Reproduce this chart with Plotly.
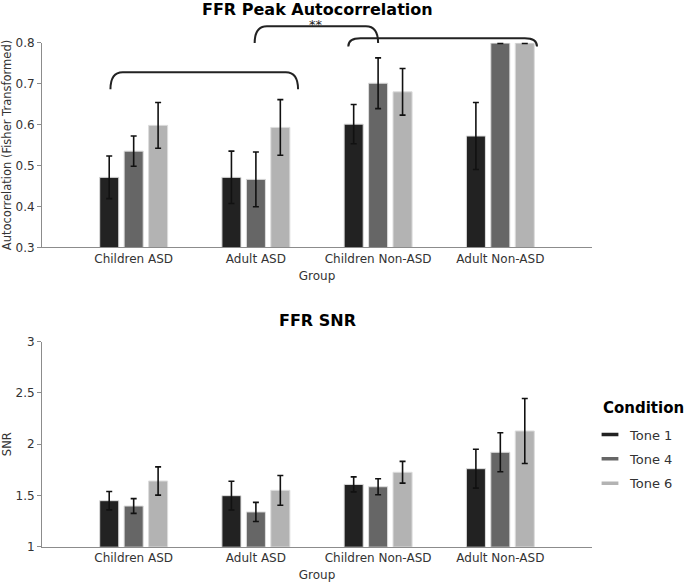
import plotly.graph_objects as go

groups = ["Children ASD", "Adult ASD", "Children Non-ASD", "Adult Non-ASD"]
tones = ["Tone 1", "Tone 4", "Tone 6"]
tone_colors = ["#222222", "#666666", "#b3b3b3"]

# FFR peak autocorrelation (Fisher transformed): means and error half-widths
auto_tone1 = [0.471, 0.471, 0.601, 0.572]
auto_tone4 = [0.535, 0.466, 0.701, 0.799]
auto_tone6 = [0.598, 0.593, 0.680, 0.799]
auto_err1 = [0.052, 0.064, 0.048, 0.082]
auto_err4 = [0.037, 0.067, 0.062, 0.001]
auto_err6 = [0.056, 0.068, 0.057, 0.001]

# FFR SNR: means and error half-widths
snr_tone1 = [1.449, 1.498, 1.608, 1.761]
snr_tone4 = [1.397, 1.339, 1.585, 1.921]
snr_tone6 = [1.641, 1.550, 1.726, 2.129]
snr_err1 = [0.090, 0.140, 0.073, 0.190]
snr_err4 = [0.072, 0.093, 0.078, 0.190]
snr_err6 = [0.138, 0.145, 0.106, 0.317]

auto_ticks = [0.3, 0.4, 0.5, 0.6, 0.7, 0.8]
snr_ticks = [1, 1.5, 2, 2.5, 3]

# significance brackets on the top panel (x in group-index units, y in data units)
bracket_x0 = [-0.19, 0.99, 1.756]
bracket_x1 = [1.345, 2.0, 3.30]
bracket_bottom = [0.686, 0.799, 0.791]
bracket_top = [0.728, 0.840, 0.811]
bracket_label = ["", "**", ""]

auto_means = [auto_tone1, auto_tone4, auto_tone6]
auto_errs = [auto_err1, auto_err4, auto_err6]
snr_means = [snr_tone1, snr_tone4, snr_tone6]
snr_errs = [snr_err1, snr_err4, snr_err6]

W, H = 685, 583
X_DOM = [42 / W, 592 / W]
Y1_DOM = [(H - 247.3) / H, (H - 42.7) / H]
Y2_DOM = [(H - 546.7) / H, (H - 341.7) / H]
Y1_RANGE = [0.3, 0.8]
Y2_RANGE = [1, 3]

FONT = "DejaVu Sans"
TXT = "#333333"

fig = go.Figure()

for i, tone in enumerate(tones):
    fig.add_trace(go.Bar(
        x=groups, y=auto_means[i], name=tone, xaxis="x", yaxis="y",
        marker=dict(color=tone_colors[i], line=dict(color="#dddddd", width=1)),
        error_y=dict(type="data", array=auto_errs[i], color="#111111", thickness=1.6, width=3),
        showlegend=False, offsetgroup=str(i),
    ))
for i, tone in enumerate(tones):
    fig.add_trace(go.Bar(
        x=groups, y=snr_means[i], name=tone, xaxis="x2", yaxis="y2",
        marker=dict(color=tone_colors[i], line=dict(color="#dddddd", width=1)),
        error_y=dict(type="data", array=snr_errs[i], color="#111111", thickness=1.6, width=3),
        showlegend=False, offsetgroup=str(i),
    ))
# legend entries drawn as short thick lines
for i, tone in enumerate(tones):
    fig.add_trace(go.Scatter(
        x=[None], y=[None], name=tone, mode="markers", xaxis="x2", yaxis="y2",
        marker=dict(symbol="line-ew", size=12, color=tone_colors[i],
                    line=dict(color=tone_colors[i], width=3.5)),
        legendgroup=tone, showlegend=True,
    ))


def y_to_paper(v, rng, dom):
    return dom[0] + (v - rng[0]) / (rng[1] - rng[0]) * (dom[1] - dom[0])


shapes = []
annotations = []
for x0, x1, yb, yt, lab in zip(bracket_x0, bracket_x1, bracket_bottom, bracket_top, bracket_label):
    pb = y_to_paper(yb, Y1_RANGE, Y1_DOM)
    pt = y_to_paper(yt, Y1_RANGE, Y1_DOM)
    rx = 0.1
    path = (f"M {x0},{pb} Q {x0},{pt} {x0 + rx},{pt} "
            f"L {x1 - rx},{pt} Q {x1},{pt} {x1},{pb}")
    shapes.append(dict(type="path", path=path, xref="x", yref="paper",
                       line=dict(color="#222222", width=2)))
    if lab:
        annotations.append(dict(text=lab, x=(x0 + x1) / 2, xref="x", y=pt, yref="paper",
                                yanchor="middle", showarrow=False, yshift=2,
                                font=dict(family=FONT, size=13, color="#222222")))

xc = (X_DOM[0] + X_DOM[1]) / 2
annotations.append(dict(text="<b>FFR Peak Autocorrelation</b>", x=xc, xref="paper",
                        y=(H - 9) / H, yref="paper", yanchor="middle", showarrow=False,
                        font=dict(family=FONT, size=16, color="#000000")))
annotations.append(dict(text="<b>FFR SNR</b>", x=xc, xref="paper",
                        y=(H - 321) / H, yref="paper", yanchor="middle", showarrow=False,
                        font=dict(family=FONT, size=16, color="#000000")))
annotations.append(dict(text="<b>Condition</b>", x=601 / W, xref="paper", xanchor="left",
                        y=(H - 408) / H, yref="paper", yanchor="middle", showarrow=False,
                        font=dict(family=FONT, size=15, color="#000000")))

axis_common = dict(showgrid=False, zeroline=False, showline=True, linecolor="#8c8c8c",
                   linewidth=1, automargin=False,
                   tickfont=dict(family=FONT, size=12, color=TXT))

fig.update_layout(
    width=W, height=H,
    margin=dict(l=0, r=0, t=0, b=0, autoexpand=False),
    paper_bgcolor="white", plot_bgcolor="white",
    barmode="group", bargap=0.4, bargroupgap=0.22,
    font=dict(family=FONT, color=TXT),
    xaxis=dict(domain=X_DOM, anchor="y", range=[-0.75, 3.75], ticks="", ticklen=2,
               title=dict(text="Group", font=dict(family=FONT, size=12, color=TXT), standoff=6),
               **axis_common),
    yaxis=dict(domain=Y1_DOM, anchor="x", range=Y1_RANGE, tickvals=auto_ticks,
               ticktext=[f"{t:.1f}" for t in auto_ticks], ticks="outside", ticklen=4,
               tickcolor="#8c8c8c",
               title=dict(text="Autocorrelation (Fisher Transformed)",
                          font=dict(family=FONT, size=11.5, color=TXT), standoff=4),
               **axis_common),
    xaxis2=dict(domain=X_DOM, anchor="y2", range=[-0.75, 3.75], ticks="", ticklen=2,
                title=dict(text="Group", font=dict(family=FONT, size=12, color=TXT), standoff=6),
                **axis_common),
    yaxis2=dict(domain=Y2_DOM, anchor="x2", range=Y2_RANGE, tickvals=snr_ticks,
                ticktext=[f"{t:g}" for t in snr_ticks], ticks="outside", ticklen=4,
                tickcolor="#8c8c8c",
                title=dict(text="SNR", font=dict(family=FONT, size=11.5, color=TXT), standoff=4),
                **axis_common),
    shapes=shapes,
    annotations=annotations,
    legend=dict(x=590 / W, xanchor="left", y=(H - 419.5) / H, yanchor="top",
                font=dict(family=FONT, size=13, color=TXT),
                tracegroupgap=4.5, bgcolor="rgba(0,0,0,0)"),
)

fig.write_html("out.html", config={"displayModeBar": False},
               post_script="document.body.style.margin='0';document.body.style.overflow='hidden';")
